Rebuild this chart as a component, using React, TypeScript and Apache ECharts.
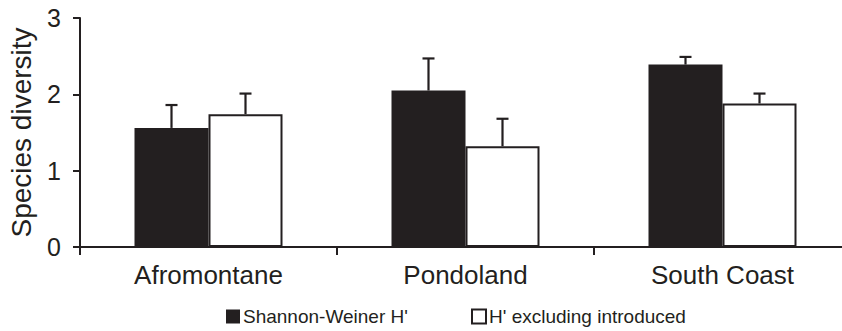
import React, { useEffect, useRef } from "react";
import * as echarts from "echarts";

const categories = ["Afromontane", "Pondoland", "South Coast"];
const shannon = [1.56, 2.05, 2.39];
const shannonErr = [0.3, 0.42, 0.1];
const excluding = [1.74, 1.32, 1.88];
const excludingErr = [0.27, 0.36, 0.13];
const seriesNames = ["Shannon-Weiner H'", "H' excluding introduced"];

const INK = "#231f20";
const FONT = "Liberation Sans, Arial, Helvetica, sans-serif";
const BAR_W = 74;

export default function App() {
  const ref = useRef<HTMLDivElement>(null);
  useEffect(() => {
    if (!ref.current) return;
    const chart = echarts.init(ref.current, null, { renderer: "svg" });
    const errData: number[][] = [];
    shannon.forEach((v, i) => errData.push([i, v, shannonErr[i], -1]));
    excluding.forEach((v, i) => errData.push([i, v, excludingErr[i], 1]));

    const legendBase = {
      top: 302,
      itemWidth: 14,
      itemHeight: 14,
      icon: "rect",
      textStyle: { fontSize: 19, color: INK, fontFamily: FONT, padding: [0, 0, 0, -2] },
    };

    chart.setOption({
      animation: false,
      textStyle: { fontFamily: FONT, color: INK },
      grid: {
        left: 80,
        top: 18,
        bottom: 84,
        right: -9,
        containLabel: false,
        outerBoundsMode: "none",
      },
      legend: [
        { ...legendBase, data: [seriesNames[0]], left: 221 },
        { ...legendBase, data: [seriesNames[1]], left: 466 },
      ],
      xAxis: {
        type: "category",
        data: categories,
        axisLine: { lineStyle: { color: INK, width: 2 } },
        axisTick: { show: true, length: 8, lineStyle: { color: INK, width: 2 } },
        axisLabel: { fontSize: 26, color: INK, margin: 15, fontFamily: FONT },
      },
      yAxis: {
        type: "value",
        min: 0,
        max: 3,
        interval: 1,
        name: "Species diversity",
        nameLocation: "middle",
        nameRotate: 90,
        nameGap: 45,
        nameTextStyle: { fontSize: 28, color: INK, fontFamily: FONT },
        axisLine: { show: true, lineStyle: { color: INK, width: 2 } },
        axisTick: { show: true, length: 7, lineStyle: { color: INK, width: 2 } },
        splitLine: { show: false },
        axisLabel: { fontSize: 25, color: INK, margin: 19, fontFamily: FONT },
      },
      series: [
        {
          name: seriesNames[0],
          type: "bar",
          data: shannon,
          barWidth: BAR_W,
          barGap: "0%",
          itemStyle: { color: INK },
        },
        {
          name: seriesNames[1],
          type: "bar",
          data: excluding,
          barWidth: BAR_W,
          barGap: "0%",
          itemStyle: { color: "#ffffff", borderColor: INK, borderWidth: 2 },
        },
        {
          type: "custom",
          name: "err",
          z: 5,
          data: errData,
          renderItem: (params: any, api: any) => {
            const ci = api.value(0);
            const v = api.value(1);
            const e = api.value(2);
            const side = api.value(3);
            const base = api.coord([ci, v]);
            const top = api.coord([ci, v + e]);
            const x = base[0] + (side * BAR_W) / 2;
            const cap = 6;
            const style = { stroke: INK, lineWidth: 2.2, fill: "none" };
            return {
              type: "group",
              children: [
                { type: "line", shape: { x1: x, y1: base[1], x2: x, y2: top[1] }, style },
                { type: "line", shape: { x1: x - cap, y1: top[1], x2: x + cap, y2: top[1] }, style },
              ],
            };
          },
        },
      ],
    });
    return () => chart.dispose();
  }, []);
  return <div ref={ref} style={{ width: 842, height: 331, position: "absolute", left: 0, top: 0 }} />;
}
